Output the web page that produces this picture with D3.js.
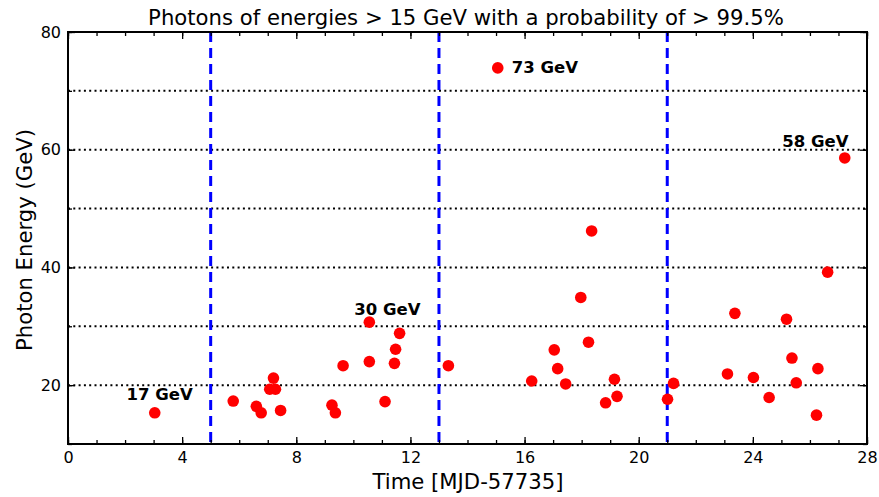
<!DOCTYPE html>
<html>
<head>
<style>
  body {margin: 0; background: #fff;}
  * {font-family: "DejaVu Sans", sans-serif;}
</style>
<script src="https://d3js.org/d3.v7.min.js"></script>
</head>
<body>
<div id="chart"></div>
<script>
// photon arrival times (MJD-57735) and energies (GeV)
const times = [3.04, 5.79, 6.60, 6.77, 7.07, 7.27, 7.20, 7.45, 9.25, 9.37, 9.64,
               10.56, 10.56, 11.11, 11.44, 11.48, 11.62, 13.33, 15.06, 16.25, 17.04,
               17.16, 17.44, 17.97, 18.24, 18.35, 18.84, 19.15, 19.24, 21.01, 21.22,
               23.11, 23.37, 24.02, 24.57, 25.18, 25.37, 25.52, 26.23, 26.28, 26.62, 27.22]
const energies = [15.3, 17.3, 16.4, 15.3, 19.3, 19.3, 21.2, 15.7, 16.6, 15.3, 23.3,
                  30.7, 24.0, 17.2, 23.7, 26.1, 28.8, 23.3, 73.9, 20.7, 26.0,
                  22.8, 20.2, 34.9, 27.3, 46.2, 17.0, 21.0, 18.1, 17.6, 20.3,
                  21.9, 32.2, 21.3, 17.9, 31.2, 24.6, 20.4, 14.9, 22.8, 39.2, 58.6]

const periodEdges = [5, 13, 21]
const gridLevels = [20, 30, 40, 50, 60, 70]

const labelText = ["17 GeV", "30 GeV", "73 GeV", "58 GeV"]
const labelX = [2.05, 10.03, 15.55, 25.03]
const labelY = [17.4, 31.9, 73.0, 60.5]

const W = 879, H = 497
const margin = {top: 32, right: 12, bottom: 53, left: 68}

const svg = d3.select("#chart").append("svg")
  .attr("width", W).attr("height", H)

const x = d3.scaleLinear().domain([0, 28]).range([margin.left, W - margin.right])
const y = d3.scaleLinear().domain([10, 80]).range([H - margin.bottom, margin.top])

// dotted horizontal grid
svg.append("g").selectAll("line")
  .data(gridLevels).enter().append("line")
  .attr("x1", x(0)).attr("x2", x(28))
  .attr("y1", d => y(d)).attr("y2", d => y(d))
  .style("stroke", "#000").style("stroke-width", 2)
  .style("stroke-dasharray", "2,3.3")

// period separators
svg.append("g").selectAll("line")
  .data(periodEdges).enter().append("line")
  .attr("x1", d => x(d)).attr("x2", d => x(d))
  .attr("y1", y(80)).attr("y2", y(10))
  .style("stroke", "#0000ff").style("stroke-width", 3)
  .style("stroke-dasharray", "10,6")

// photons
svg.append("g").selectAll("circle")
  .data(times).enter().append("circle")
  .attr("cx", d => x(d))
  .attr("cy", (d, i) => y(energies[i]))
  .attr("r", 5.8)
  .style("fill", "#ff0000")

svg.append("g").selectAll("text")
  .data(labelText).enter().append("text")
  .attr("x", (d, i) => x(labelX[i]))
  .attr("y", (d, i) => y(labelY[i]))
  .style("font-size", "16.5px").style("font-weight", "bold")
  .text(d => d)

// axes with inward ticks
function styleAxis(g) {
  g.select(".domain").remove()
  g.selectAll(".tick line").style("stroke", "#000").style("stroke-width", 1.3)
  g.selectAll("text").style("font-size", "16px").style("fill", "#000")
}
const xMinor = d3.range(0, 29, 1), yMinor = d3.range(10, 81, 10)

svg.append("g").attr("transform", `translate(0,${y(10)})`)
  .call(d3.axisBottom(x).tickValues(d3.range(0, 29, 4)).tickFormat(d3.format("d")).tickSizeInner(-7).tickPadding(8))
  .call(styleAxis)
svg.append("g").attr("transform", `translate(0,${y(10)})`)
  .call(d3.axisBottom(x).tickValues(xMinor).tickFormat("").tickSizeInner(-4))
  .call(styleAxis)
svg.append("g").attr("transform", `translate(0,${y(80)})`)
  .call(d3.axisTop(x).tickValues(d3.range(0, 29, 4)).tickFormat("").tickSizeInner(-7))
  .call(styleAxis)
svg.append("g").attr("transform", `translate(0,${y(80)})`)
  .call(d3.axisTop(x).tickValues(xMinor).tickFormat("").tickSizeInner(-4))
  .call(styleAxis)
svg.append("g").attr("transform", `translate(${x(0)},0)`)
  .call(d3.axisLeft(y).tickValues([20, 40, 60, 80]).tickSizeInner(-7).tickPadding(7))
  .call(styleAxis)
svg.append("g").attr("transform", `translate(${x(0)},0)`)
  .call(d3.axisLeft(y).tickValues(yMinor).tickFormat("").tickSizeInner(-4))
  .call(styleAxis)
svg.append("g").attr("transform", `translate(${x(28)},0)`)
  .call(d3.axisRight(y).tickValues([20, 40, 60, 80]).tickFormat("").tickSizeInner(-7))
  .call(styleAxis)
svg.append("g").attr("transform", `translate(${x(28)},0)`)
  .call(d3.axisRight(y).tickValues(yMinor).tickFormat("").tickSizeInner(-4))
  .call(styleAxis)

// frame
svg.append("rect")
  .attr("x", x(0)).attr("y", y(80))
  .attr("width", x(28) - x(0)).attr("height", y(10) - y(80))
  .style("fill", "none").style("stroke", "#000").style("stroke-width", 2)

svg.append("text")
  .attr("x", 466).attr("y", 25)
  .attr("text-anchor", "middle").style("font-size", "21.2px")
  .text("Photons of energies > 15 GeV with a probability of > 99.5%")

svg.append("text")
  .attr("x", 468).attr("y", 489)
  .attr("text-anchor", "middle").style("font-size", "21.2px")
  .text("Time [MJD-57735]")

svg.append("text")
  .attr("transform", `translate(32,${(y(10) + y(80)) / 2 + 2}) rotate(-90)`)
  .attr("text-anchor", "middle").style("font-size", "21.2px")
  .text("Photon Energy (GeV)")
</script>
</body>
</html>
